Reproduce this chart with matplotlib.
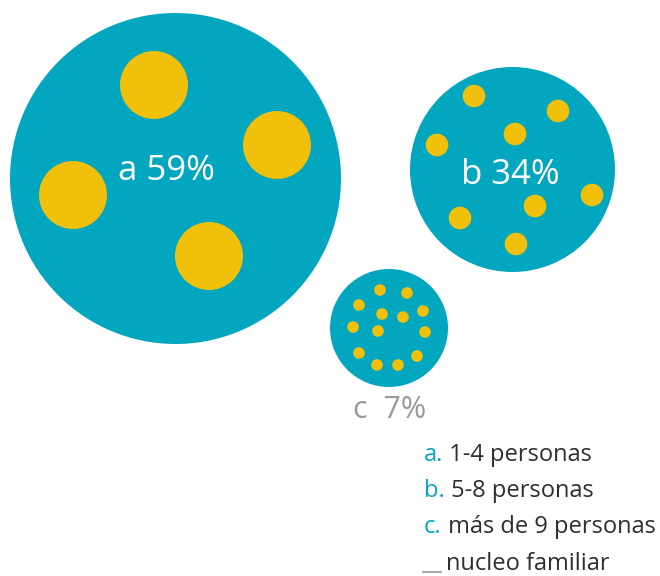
import matplotlib.pyplot as plt
from matplotlib.patches import Circle

# 数据
categories = ["a", "b", "c"]
percentages = [59, 34, 7]
legend_letters = ["a.", "b.", "c."]
legend_labels = ["1-4 personas", "5-8 personas", "más de 9 personas"]
legend_note = "nucleo familiar"

# 颜色
TEAL = "#02A7BF"
YELLOW = "#F0C00A"
GRAY = "#9A9A9A"
DARK = "#2E2E2E"

# 布局（像素坐标，y 向下）
bubble_centers = [(175.5, 178.5), (512.5, 169.5), (389, 328)]
bubble_radii = [165.5, 102.5, 59]
dot_radii = [34, 11.3, 5.8]
dot_positions = [
    [(154, 85), (277, 145), (73, 195), (209, 256)],
    [(474, 96), (558, 111), (515, 134), (437, 145),
     (592, 195), (535, 206), (460, 218), (516, 244)],
    [(380, 290), (407, 293), (359, 305), (423, 311), (382, 314),
     (403, 317), (353, 327), (378, 331), (425, 332), (359, 353),
     (417, 356), (377, 365), (398, 365)],
]
label_pos = [(166.5, 180), (510, 184), (390, 418)]
label_size = [25, 25, 22]
label_sep = [" ", " ", "  "]
label_color = ["white", "white", GRAY]

plt.rcParams['font.family'] = ['Open Sans', 'DejaVu Sans']

fig = plt.figure(figsize=(6.6, 5.76), dpi=100)
ax = fig.add_axes([0, 0, 1, 1])
ax.set_xlim(0, 660)
ax.set_ylim(576, 0)
ax.set_aspect('equal')
ax.axis('off')

for i, cat in enumerate(categories):
    ax.add_patch(Circle(bubble_centers[i], bubble_radii[i], color=TEAL, lw=0))
    for (x, y) in dot_positions[i]:
        ax.add_patch(Circle((x, y), dot_radii[i], color=YELLOW, lw=0))
    ax.text(label_pos[i][0], label_pos[i][1], f"{cat}{label_sep[i]}{percentages[i]}%",
            ha='center', va='baseline', fontsize=label_size[i], color=label_color[i])

# 图例
legend_x = 424
legend_y = [461, 497, 533]
for letter, lab, y in zip(legend_letters, legend_labels, legend_y):
    t1 = ax.text(legend_x, y, letter, ha='left', va='baseline', fontsize=17, color=TEAL)
    ax.annotate(" " + lab, xy=(1, 0), xycoords=t1, ha='left', va='bottom',
                fontsize=17, color=DARK)

ax.plot([422, 442], [572, 572], color=GRAY, lw=1.2, solid_capstyle='butt')
ax.text(446, 570, legend_note, ha='left', va='baseline', fontsize=17, color=DARK)

fig.savefig("out.png", dpi=100)
